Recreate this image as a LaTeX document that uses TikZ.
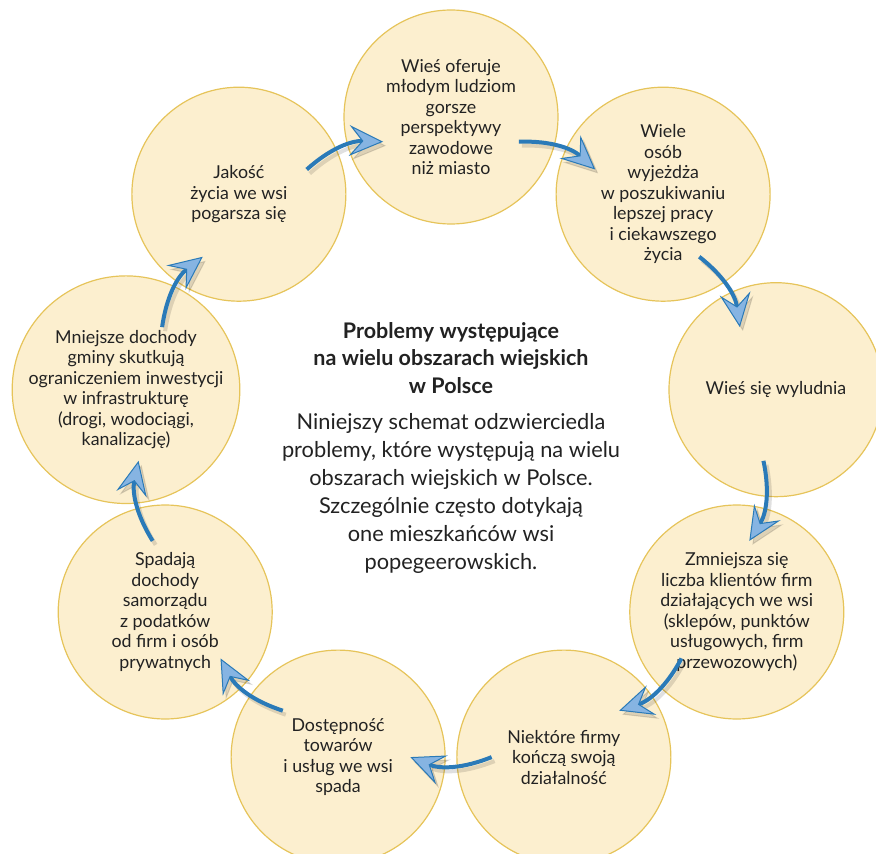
\documentclass[tikz,border=0pt]{standalone}
\usepackage{fontspec}
\setmainfont{Lato}
\usetikzlibrary{arrows.meta,calc}

\definecolor{circfill}{HTML}{FCEFCF}
\definecolor{circline}{HTML}{E6C45A}
\definecolor{arrowdark}{HTML}{2A7AB8}
\definecolor{arrowlight}{HTML}{86B4E2}
\definecolor{txt}{HTML}{222222}

\tikzset{
  stage/.style={circle, draw=circline, line width=1.2pt, fill=circfill,
    minimum size=214pt, inner sep=0pt, align=center, text=txt,
    font=\fontsize{17.8}{20.5}\selectfont},
  flow/.style={draw=arrowdark, line width=4pt,
    -{Stealth[length=34pt,width=31pt,inset=13pt,fill=arrowlight,line width=1pt]}},
  flowshade/.style={draw=black, opacity=0.12, line width=4pt,
    -{Stealth[length=34pt,width=31pt,inset=13pt,fill=black,line width=1pt]}},
}

\begin{document}
\begin{tikzpicture}[x=1pt,y=1pt]
\useasboundingbox (-451,-407) rectangle (425,447);

\foreach \t [count=\i, evaluate=\i as \a using 130-40*\i] in {
  {Wieś oferuje\\młodym ludziom\\gorsze\\perspektywy\\zawodowe\\niż miasto},
  {Wiele\\osób\\wyjeżdża\\w poszukiwaniu\\lepszej pracy\\i ciekawszego\\życia},
  {Wieś się wyludnia},
  {Zmniejsza się\\liczba klientów firm\\działających we wsi\\(sklepów, punktów\\usługowych, firm\\przewozowych)},
  {Niektóre firmy\\kończą swoją\\działalność},
  {Dostępność\\towarów\\i usług we wsi\\spada},
  {Spadają\\dochody\\samorządu\\z podatków\\od firm i osób\\prywatnych},
  {Mniejsze dochody\\gminy skutkują\\ograniczeniem inwestycji\\w infrastrukturę\\(drogi, wodociągi,\\kanalizację)},
  {Jakość\\życia we wsi\\pogarsza się}} {
\node[stage] (c\i) at (\a:330) {\t};
}

% arrows between neighbouring circles
\foreach \i in {1,...,9} {
\pgfmathtruncatemacro{\j}{mod(\i,9)+1}
\coordinate (s\i) at ($(c\i)!0.32!(c\j)$);
\coordinate (e\i) at ($(c\i)!0.68!(c\j)$);
\draw[flowshade, transform canvas={shift={(3pt,-4pt)}}] (s\i) to[bend left=22] (e\i);
\draw[flow] (s\i) to[bend left=22] (e\i);
}

\node (head) at (0,89) [align=center, text=txt, font=\fontsize{21.5}{27.5}\selectfont\bfseries]
  {Problemy występujące\\na wielu obszarach wiejskich\\w Polsce};
\node (desc) at (0,-46) [align=center, text=txt, font=\fontsize{21.8}{28}\selectfont]
  {Niniejszy schemat odzwierciedla\\problemy, które występują na wielu\\obszarach wiejskich w Polsce.\\Szczególnie często dotykają\\one mieszkańców wsi\\popegeerowskich.};
\end{tikzpicture}
\end{document}
